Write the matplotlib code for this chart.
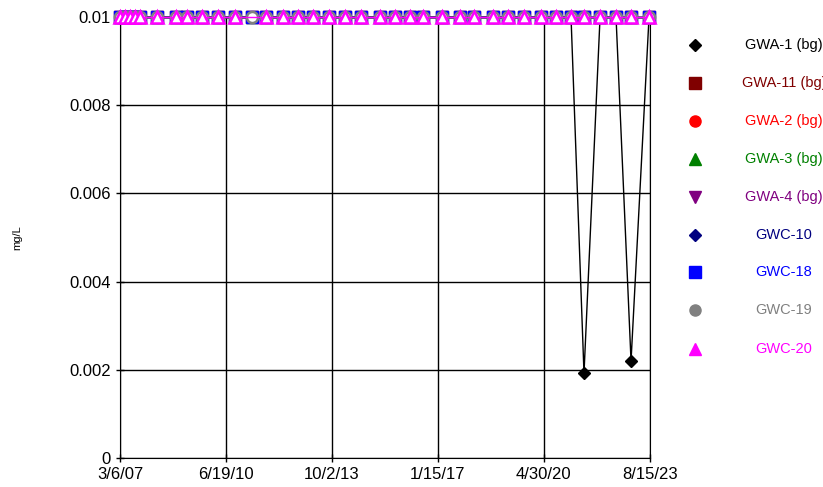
import pandas as pd
import numpy as np
import matplotlib
matplotlib.use('Agg')
import matplotlib.pyplot as plt
from matplotlib.lines import Line2D

plt.rcParams['font.family'] = ['Liberation Sans', 'DejaVu Sans']

# sample dates
dates = ['2007-03-06', '2007-05-02', '2007-06-27', '2007-08-23', '2007-10-19',
         '2008-04-28', '2008-11-30', '2009-04-04', '2009-09-21', '2010-03-21',
         '2010-09-30', '2011-04-11', '2011-09-16', '2012-03-27', '2012-09-13',
         '2013-03-02', '2013-08-30', '2014-02-27', '2014-08-28', '2015-03-31',
         '2015-09-17', '2016-03-05', '2016-07-30', '2017-03-02', '2017-09-22',
         '2018-02-28', '2018-10-01', '2019-03-20', '2019-09-17', '2020-03-28',
         '2020-09-14', '2021-03-03', '2021-07-28', '2022-01-26', '2022-07-26',
         '2023-01-12', '2023-08-04']

# all wells are at the 0.01 mg/L reporting limit except two GWA-1 detections
gwa1 = [0.01] * 32 + [0.00192, 0.01, 0.01, 0.0022, 0.01]
gwa11 = [0.01] * 37
gwa2 = [0.01] * 37
gwa3 = [0.01] * 37
gwa4 = [0.01] * 37
gwc10 = [0.01] * 37
gwc18 = [0.01] * 37
gwc19 = [0.01] * 37
gwc20 = [0.01] * 11 + [np.nan] + [0.01] * 25

series = ['GWA-1 (bg)', 'GWA-11 (bg)', 'GWA-2 (bg)', 'GWA-3 (bg)', 'GWA-4 (bg)',
          'GWC-10', 'GWC-18', 'GWC-19', 'GWC-20']
values = [gwa1, gwa11, gwa2, gwa3, gwa4, gwc10, gwc18, gwc19, gwc20]
colors = ['black', '#800000', 'red', 'green', 'purple', 'navy', 'blue', 'gray', 'magenta']
markers = ['D', 's', 'o', '^', 'v', 'D', 's', 'o', '^']
sizes = [6, 8, 8, 9, 9, 6, 8, 8, 9]
hollow = [False, False, False, False, False, False, False, True, True]

tick_dates = ['2007-03-06', '2010-06-19', '2013-10-02', '2017-01-15', '2020-04-30', '2023-08-15']
tick_labels = ['3/6/07', '6/19/10', '10/2/13', '1/15/17', '4/30/20', '8/15/23']

df = pd.DataFrame(dict(zip(series, values)), index=pd.to_datetime(dates))

fig = plt.figure(figsize=(8.23, 4.87), dpi=100)
ax = fig.add_axes([0.1458, 0.0595, 0.644, 0.9055])

for name, c, m, s, h in zip(series, colors, markers, sizes, hollow):
    d = df[name].dropna()
    ax.plot(d.index, d.values, color=c, lw=1, marker=m, ms=s,
            mfc='white' if h else c, mec=c, mew=1.8 if h else 1, clip_on=False, zorder=3)

ticks = pd.to_datetime(tick_dates)
ax.set_xlim(ticks[0], ticks[-1])
ax.set_xticks(ticks)
ax.set_xticklabels(tick_labels)
ax.set_ylim(0, 0.01)
ax.set_yticks([0, 0.002, 0.004, 0.006, 0.008, 0.01])
ax.set_yticklabels(['0', '0.002', '0.004', '0.006', '0.008', '0.01'])
ax.tick_params(direction='inout', length=6, width=1, labelsize=12, color='black')
ax.grid(True, color='black', lw=1)
ax.set_axisbelow(True)
ax.spines['top'].set_visible(False)
ax.set_ylabel('mg/L', fontsize=8, labelpad=34)

# legend drawn by hand: marker column + centered text
leg_y = [45, 83, 121, 159, 197, 235, 272, 310, 349]
for name, c, m, s, y in zip(series, colors, markers, sizes, leg_y):
    yf = 1 - y / 487
    fig.add_artist(Line2D([695 / 823], [yf], marker=m, color=c, ms=s, ls='none',
                          transform=fig.transFigure))
    fig.text(784 / 823, yf, name, color=c, fontsize=10.5, ha='center', va='center')

plt.savefig('out.png', dpi=100)
